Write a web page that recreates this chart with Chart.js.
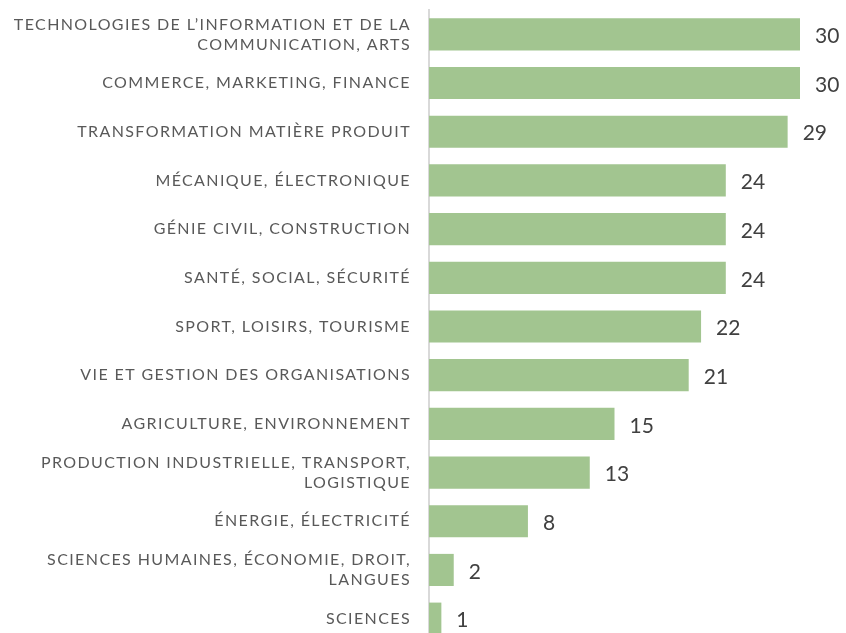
<!DOCTYPE html>
<html>
<head>
<meta charset="utf-8">
<script src="https://cdn.jsdelivr.net/npm/chart.js@4/dist/chart.umd.min.js"></script>
<style>
  html, body { margin: 0; padding: 0; background: #fff; overflow: hidden; }
  canvas { display: block; }
</style>
</head>
<body>
<canvas id="chart" width="846" height="646"></canvas>
<script>
var labels = [
    ["TECHNOLOGIES DE L\u2019INFORMATION ET DE LA", "COMMUNICATION, ARTS"],
    "COMMERCE, MARKETING, FINANCE",
    "TRANSFORMATION MATIÈRE PRODUIT",
    "MÉCANIQUE, ÉLECTRONIQUE",
    "GÉNIE CIVIL, CONSTRUCTION",
    "SANTÉ, SOCIAL, SÉCURITÉ",
    "SPORT, LOISIRS, TOURISME",
    "VIE ET GESTION DES ORGANISATIONS",
    "AGRICULTURE, ENVIRONNEMENT",
    ["PRODUCTION INDUSTRIELLE, TRANSPORT,", "LOGISTIQUE"],
    "ÉNERGIE, ÉLECTRICITÉ",
    ["SCIENCES HUMAINES, ÉCONOMIE, DROIT,", "LANGUES"],
    "SCIENCES"
];
var values = [30, 30, 29, 24, 24, 24, 22, 21, 15, 13, 8, 2, 1];

// wider letters for the category labels (reference font is very wide)
var spacing = {
    id: 'spacing',
    beforeDraw: function (chart) { chart.ctx.letterSpacing = '1.4px'; }
};

// value labels at the end of each bar
var valueLabels = {
    id: 'valueLabels',
    afterDatasetsDraw: function (chart) {
        var ctx = chart.ctx;
        var xs = chart.scales.x, ys = chart.scales.y;
        ctx.save();
        ctx.letterSpacing = '0px';
        ctx.font = '21px Lato, sans-serif';
        ctx.fillStyle = '#404040';
        ctx.textAlign = 'left';
        ctx.textBaseline = 'middle';
        for (var i = 0; i < values.length; i++) {
            ctx.fillText(String(values[i]), xs.getPixelForValue(values[i]) + 15, ys.getPixelForValue(i) + 2);
        }
        ctx.restore();
    }
};

new Chart(document.getElementById('chart'), {
    type: 'bar',
    data: {
        labels: labels,
        datasets: [{
            data: values,
            backgroundColor: '#a2c590',
            borderWidth: 0,
            categoryPercentage: 1,
            barPercentage: 0.66
        }]
    },
    plugins: [spacing, valueLabels],
    options: {
        indexAxis: 'y',
        responsive: false,
        animation: false,
        layout: { padding: { top: 10, right: 46, bottom: 3, left: 0 } },
        plugins: {
            legend: { display: false },
            tooltip: { enabled: false }
        },
        scales: {
            x: { display: false, min: 0, max: 30 },
            y: {
                grid: { display: false, drawTicks: false },
                border: { display: true, color: '#d9d9d9', width: 2 },
                ticks: {
                    color: '#595959',
                    padding: 18,
                    font: { family: 'Lato, sans-serif', size: 16, lineHeight: 1.25 }
                },
                afterFit: function (scale) {
                    scale.width = 429;
                    scale.paddingTop = 0;
                    scale.paddingBottom = 0;
                }
            }
        }
    }
});
</script>
</body>
</html>
